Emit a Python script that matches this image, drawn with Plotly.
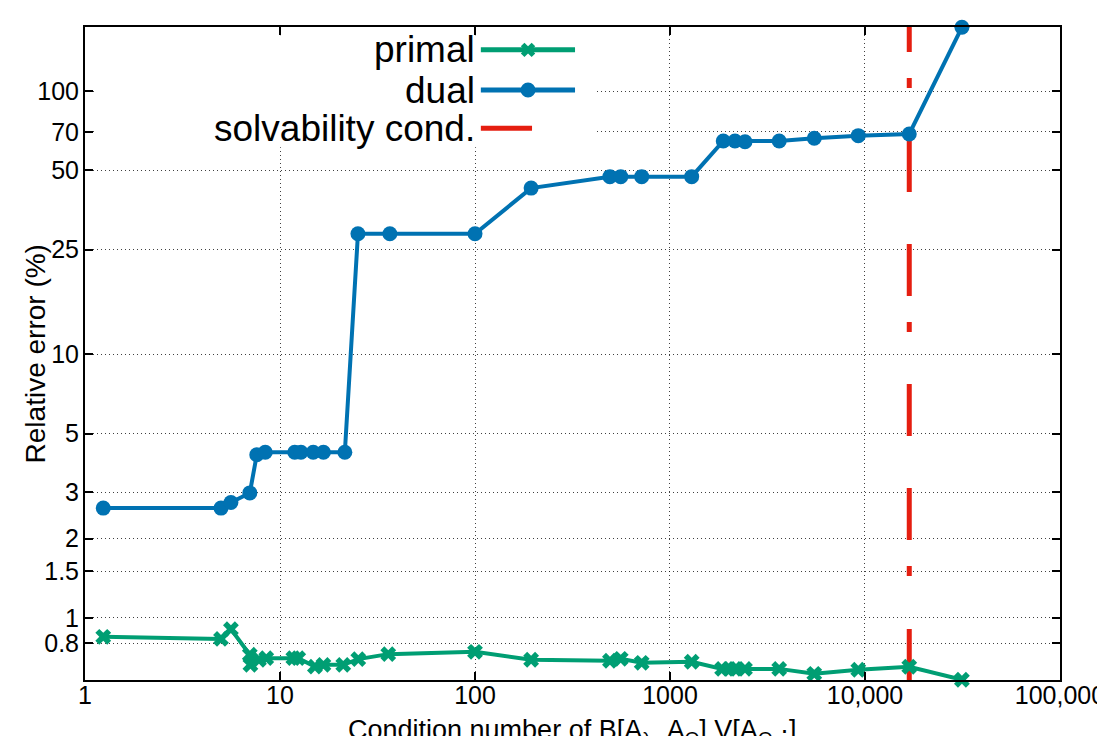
import plotly.graph_objects as go

# ---------------- data ----------------
dual_cond = [1.24, 4.98, 5.6, 7.0, 7.6, 8.4, 11.9, 12.8, 14.8, 16.7, 21.5,
             25.1, 36.6, 100, 194, 492, 559, 716, 1292, 1876, 2154, 2425,
             3631, 5495, 9240, 16870, 31420]
dual_err = [2.61, 2.61, 2.74, 2.98, 4.16, 4.25, 4.25, 4.25, 4.25, 4.25, 4.25,
            28.7, 28.7, 28.7, 42.8, 47.3, 47.3, 47.3, 47.3, 64.6, 64.6, 64.2,
            64.6, 66.2, 67.7, 68.7, 174.5]

primal_cond = [1.24, 4.98, 5.6, 7.0, 7.05, 7.8, 8.5, 11.7, 12.4, 15.1, 16.7,
               21.1, 25.2, 35.9, 100, 194, 492, 559, 716, 1292, 1850, 2010,
               2154, 2425, 3631, 5495, 9240, 16870, 31420]
primal_err = [0.847, 0.832, 0.906, 0.724, 0.663, 0.693, 0.703, 0.703, 0.703,
              0.653, 0.663, 0.663, 0.697, 0.728, 0.743, 0.693, 0.687, 0.699,
              0.675, 0.681, 0.640, 0.640, 0.640, 0.640, 0.640, 0.613, 0.635,
              0.652, 0.582]

solvability_cond = 16870

x_tickvals = [1, 10, 100, 1000, 10000, 100000]
x_ticktext = ["1", "10", "100", "1000", "10,000", "100,000"]
y_tickvals = [0.8, 1, 1.5, 2, 3, 5, 10, 25, 50, 70, 100]
y_ticktext = ["0.8", "1", "1.5", "2", "3", "5", "10", "25", "50", "70", "100"]

x_title = "Condition number of B[A<sub>λ</sub>, A<sub>Q</sub>] V[A<sub>Q</sub> ·]"
y_title = "Relative error (%)"

# ---------------- style ----------------
GREEN = "#009e73"
BLUE = "#0072b2"
RED = "#e51e10"
FONT = "Liberation Sans, Arial, sans-serif"

x_range = [-0.0002, 5.0002]
y_range = [-0.236, 2.243]

fig = go.Figure()

fig.add_trace(go.Scatter(
    x=[solvability_cond, solvability_cond],
    y=[10 ** y_range[0], 10 ** y_range[1]],
    mode="lines",
    line=dict(color=RED, width=5,
              dash="51px,53px,10px,26px,52px,52px,52px,52px,10px,26px,"
                   "52px,52px,52px,52px,10px,26px,60px,40px"),
    name="solvability cond.", showlegend=False, hoverinfo="skip"))

fig.add_trace(go.Scatter(
    x=primal_cond, y=primal_err, mode="lines+markers", name="primal",
    line=dict(color=GREEN, width=4),
    marker=dict(symbol="x", size=14, color=GREEN, line=dict(width=0)),
    cliponaxis=False, showlegend=False))

fig.add_trace(go.Scatter(
    x=dual_cond, y=dual_err, mode="lines+markers", name="dual",
    line=dict(color=BLUE, width=4),
    marker=dict(symbol="circle", size=15, color=BLUE, line=dict(width=0)),
    cliponaxis=False, showlegend=False))

# ---------------- manual legend (gnuplot style) ----------------
shapes = [
    dict(type="rect", xref="x domain", yref="y domain", x0=0.0095, x1=0.525,
         y0=0.816, y1=0.9875, fillcolor="white", line=dict(width=0),
         layer="above"),
]
legend_rows = [("primal", 0.965, GREEN, "x"),
               ("dual", 0.9035, BLUE, "o"),
               ("solvability cond.", 0.845, RED, None)]
annotations = []
rx = 3.6
xpath = (f"M0,{rx} L{rx},{2*rx} L{2*rx},{rx} L{rx},0 L{2*rx},{-rx} "
         f"L{rx},{-2*rx} L0,{-rx} L{-rx},{-2*rx} L{-2*rx},{-rx} L{-rx},0 "
         f"L{-2*rx},{rx} L{-rx},{2*rx} Z")
for label, yy, col, mk in legend_rows:
    annotations.append(dict(
        xref="x domain", yref="y domain", x=0.402, y=yy, text=label,
        showarrow=False, xanchor="right", yanchor="middle",
        font=dict(family=FONT, size=37, color="black")))
    x_end = 0.5026 if mk else 0.4585
    shapes.append(dict(type="line", xref="x domain", yref="y domain",
                       x0=0.406, x1=x_end, y0=yy, y1=yy,
                       line=dict(color=col, width=5), layer="above"))
    if mk == "o":
        shapes.append(dict(type="circle", xref="x domain", yref="y domain",
                           xsizemode="pixel", ysizemode="pixel",
                           xanchor=0.4544, yanchor=yy,
                           x0=-7.5, x1=7.5, y0=-7.5, y1=7.5,
                           fillcolor=col, line=dict(width=0), layer="above"))
    elif mk == "x":
        shapes.append(dict(type="path", xref="x domain", yref="y domain",
                           xsizemode="pixel", ysizemode="pixel",
                           xanchor=0.4544, yanchor=yy, path=xpath,
                           fillcolor=col, line=dict(width=0), layer="above"))

# axis titles placed like gnuplot (y label overlapping tick label column)
annotations.append(dict(
    xref="paper", yref="paper", x=-0.0503, y=0.5, text=y_title,
    textangle=-90, showarrow=False, xanchor="center", yanchor="middle",
    font=dict(family=FONT, size=28, color="black")))
annotations.append(dict(
    xref="paper", yref="paper", x=0.5, y=-0.050, text=x_title,
    showarrow=False, xanchor="center", yanchor="top",
    font=dict(family=FONT, size=27, color="black")))

axis_common = dict(
    showline=True, linecolor="black", linewidth=2, mirror="allticks",
    ticks="inside", ticklen=8, tickwidth=1.5, tickcolor="black",
    showgrid=True, gridcolor="rgba(0,0,0,0.75)", gridwidth=1,
    griddash="1px,3px", zeroline=False, automargin=False,
    ticklabeloverflow="allow",
    tickfont=dict(family=FONT, size=25, color="black"),
)

fig.update_layout(
    width=1097, height=736,
    margin=dict(l=85, r=37, t=27, b=56),
    paper_bgcolor="white", plot_bgcolor="white",
    font=dict(family=FONT, color="black"),
    shapes=shapes, annotations=annotations,
    xaxis=dict(type="log", range=x_range, tickvals=x_tickvals,
               ticktext=x_ticktext, ticklabelstandoff=-8, **axis_common),
    yaxis=dict(type="log", range=y_range, tickvals=y_tickvals,
               ticktext=y_ticktext, ticklabelstandoff=-1, **axis_common),
)

# remove the default page margin / scrollbars so the figure fills the window
fig.write_html(
    "out.html",
    config={"displayModeBar": False},
    post_script="document.body.style.margin='0';"
                "document.documentElement.style.overflow='hidden';"
                "document.body.style.overflow='hidden';")
